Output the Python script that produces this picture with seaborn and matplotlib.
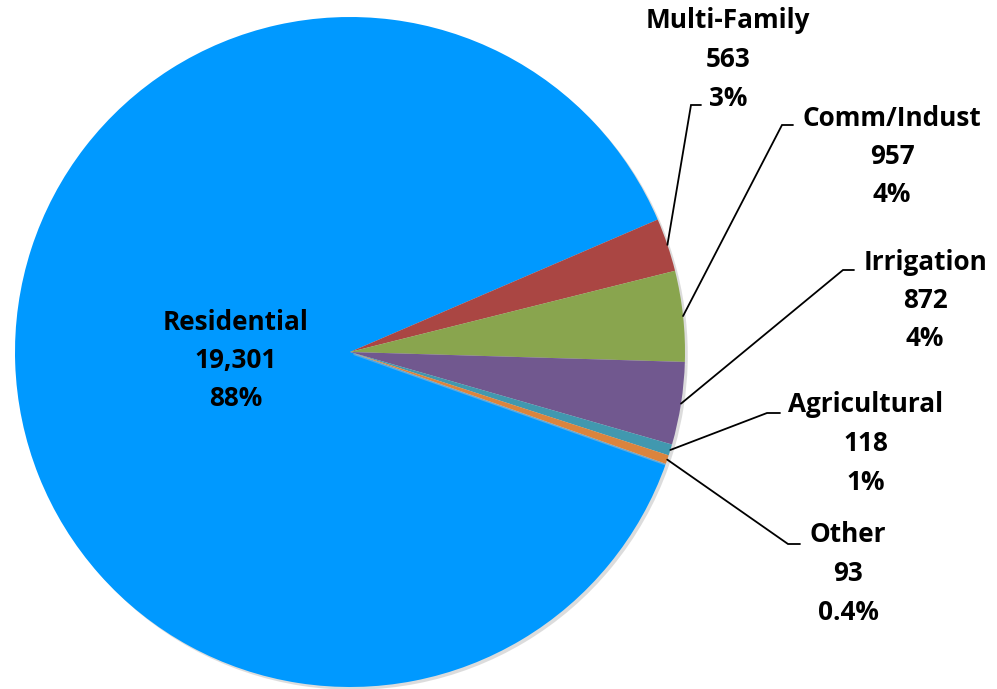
import numpy as np
import matplotlib
matplotlib.use("Agg")
import matplotlib.pyplot as plt
import matplotlib.patheffects as pe
import seaborn as sns

# ---- data ----
categories = ["Residential", "Multi-Family", "Comm/Indust", "Irrigation", "Agricultural", "Other"]
values = [19301, 563, 957, 872, 118, 93]
value_labels = ["19,301", "563", "957", "872", "118", "93"]
pct_labels = ["88%", "3%", "4%", "4%", "1%", "0.4%"]
colors = ["#0099FF", "#AA4643", "#89A54E", "#71588F", "#4198AF", "#DB843D"]

sns.set_theme(style="white")
plt.rcParams['font.family'] = ['Open Sans', 'DejaVu Sans']

W, H = 997, 689
fig = plt.figure(figsize=(W / 100, H / 100), dpi=100)
ax = fig.add_axes([0, 0, 1, 1])

def Y(y):
    return H - y

cx, cy, R = 350, 352, 335
start = -19.5
wedges, _ = ax.pie(values, colors=colors, startangle=start, counterclock=False,
                   center=(cx, Y(cy)), radius=R,
                   wedgeprops=dict(linewidth=0))
for w in wedges:
    w.set_path_effects([pe.SimplePatchShadow(offset=(2, -2), shadow_rgbFace="#bbbbbb", alpha=0.5), pe.Normal()])

ax.set_xlim(0, W)
ax.set_ylim(0, H)
ax.set_aspect('equal')
ax.axis('off')

fs = 18.8
line_h = 38.5
# label layout: (text center x, first line center y, elbow x, elbow y, end x)
layout = {
    "Multi-Family": (728, 21, 691, 105, 701),
    "Comm/Indust": (892, 118, 782, 125, 793),
    "Irrigation": (925, 262, 843, 270, 854),
    "Agricultural": (866, 405, 767, 413, 780),
    "Other": (848, 535, 788, 544, 800),
}

for i, (w, cat) in enumerate(zip(wedges, categories)):
    lines = [cat, value_labels[i], pct_labels[i]]
    if cat == "Residential":
        tx, ty = 236, 322
    else:
        tx, ty, ex, ey, endx = layout[cat]
        mid = np.deg2rad((w.theta1 + w.theta2) / 2)
        ax_x = cx + R * np.cos(mid)
        ax_y = Y(cy) + R * np.sin(mid)
        ax.plot([ax_x, ex, endx], [ax_y, Y(ey), Y(ey)], color="black", lw=1.3,
                solid_joinstyle="miter")
    for k, t in enumerate(lines):
        ax.text(tx, Y(ty + k * line_h), t, ha="center", va="center",
                fontsize=fs, fontweight="bold", color="black")

fig.savefig("out.png", dpi=100)
